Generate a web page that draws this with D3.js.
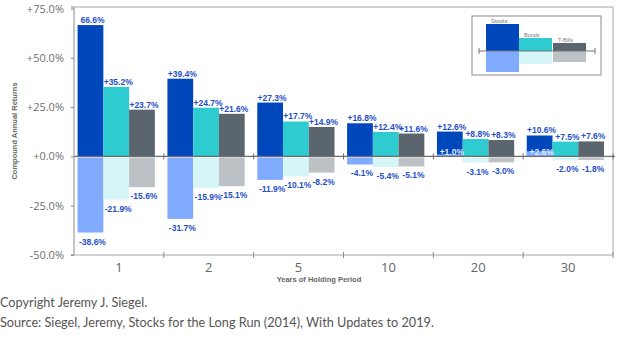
<!DOCTYPE html>
<html>
<head>
<meta charset="utf-8">
<script src="https://cdn.jsdelivr.net/npm/d3@7"></script>
<style>
  body { margin: 0; background: #fff; }
  svg text { font-family: "Liberation Sans", Arial, sans-serif; }
</style>
</head>
<body>
<div id="chart"></div>
<script>
// Holding periods (years) and best / worst compound annual returns, in percent
const periods = ["1", "2", "5", "10", "20", "30"];
const stocksBest = [66.6, 39.4, 27.3, 16.8, 12.6, 10.6];
const bondsBest = [35.2, 24.7, 17.7, 12.4, 8.8, 7.5];
const billsBest = [23.7, 21.6, 14.9, 11.6, 8.3, 7.6];
const stocksWorst = [-38.6, -31.7, -11.9, -4.1, 1.0, 2.6];
const bondsWorst = [-21.9, -15.9, -10.1, -5.4, -3.1, -2.0];
const billsWorst = [-15.6, -15.1, -8.2, -5.1, -3.0, -1.8];
const yTicks = [-50, -25, 0, 25, 50, 75];

const assets = ["stocks", "bonds", "bills"];
const best = { stocks: stocksBest, bonds: bondsBest, bills: billsBest };
const worst = { stocks: stocksWorst, bonds: bondsWorst, bills: billsWorst };
const darkColor = { stocks: "#0047bb", bonds: "#2ecbd0", bills: "#5b656d" };
const lightColor = { stocks: "#80abff", bonds: "#d6f5f6", bills: "#bcc1c5" };

const W = 624, H = 340;
const plot = { left: 74, right: 613, top: 7, bottom: 255 };

const svg = d3.select("#chart").append("svg")
  .attr("width", W)
  .attr("height", H);

const x = d3.scaleBand()
  .domain(periods)
  .range([plot.left, plot.right]);

const xSub = d3.scaleBand()
  .domain(assets)
  .range([3.6, x.bandwidth() * 0.9]);

const y = d3.scaleLinear()
  .domain([-50, 75])
  .range([plot.bottom, 8.5]);

// frame: top and right border
svg.append("path")
  .attr("d", `M${plot.left},${plot.top}H${plot.right}V${plot.bottom}`)
  .attr("fill", "none")
  .attr("stroke", "#a6a6a6")
  .attr("stroke-width", 1);

// left axis
const yAxis = svg.append("g")
  .attr("transform", `translate(${plot.left},0)`)
  .call(d3.axisLeft(y).tickValues(yTicks).tickSize(3).tickPadding(7)
    .tickFormat(d => (d >= 0 ? "+" : "") + d.toFixed(1) + "%"));
yAxis.select(".domain").attr("stroke", "#8c8c8c")
  .attr("d", `M-3,${plot.top}H0V${plot.bottom}H-3`);
yAxis.selectAll(".tick line").attr("stroke", "#8c8c8c");
yAxis.selectAll(".tick text")
  .attr("fill", "#6f6f6f")
  .style("font-size", "11px")
  .style("font-family", "'Open Sans', sans-serif");

// bottom axis with category boundary ticks
svg.append("line")
  .attr("x1", plot.left).attr("x2", plot.right)
  .attr("y1", plot.bottom).attr("y2", plot.bottom)
  .attr("stroke", "#a6a6a6");

const bounds = periods.map(p => x(p)).concat([plot.right]);
svg.selectAll(".btick")
  .data(bounds.slice(1))
  .enter().append("line")
  .attr("x1", d => d).attr("x2", d => d)
  .attr("y1", plot.bottom - 3).attr("y2", plot.bottom + 3)
  .attr("stroke", "#8c8c8c");

svg.selectAll(".xlabel")
  .data(periods)
  .enter().append("text")
  .attr("x", d => x(d) + x.bandwidth() / 2)
  .attr("y", 272)
  .attr("text-anchor", "middle")
  .attr("fill", "#666")
  .style("font-size", "13px")
  .style("font-family", "'Open Sans', sans-serif")
  .text(d => d);

// bars: best years (dark) then worst years (light) on top
const groups = svg.selectAll("g.period")
  .data(periods.map((p, i) => ({ p, i })))
  .enter().append("g")
  .attr("class", "period")
  .attr("transform", d => `translate(${x(d.p)},0)`);

groups.selectAll("rect.best")
  .data(d => assets.map(a => ({ a, v: best[a][d.i], i: d.i })))
  .enter().append("rect")
  .attr("class", "best")
  .attr("x", d => xSub(d.a))
  .attr("width", xSub.bandwidth())
  .attr("y", d => y(d.v))
  .attr("height", d => y(0) - y(d.v))
  .attr("fill", d => darkColor[d.a]);

groups.selectAll("rect.worst")
  .data(d => assets.map(a => ({ a, v: worst[a][d.i], i: d.i })))
  .enter().append("rect")
  .attr("class", "worst")
  .attr("x", d => xSub(d.a))
  .attr("width", xSub.bandwidth())
  .attr("y", d => d.v < 0 ? y(0) + 1 : y(d.v))
  .attr("height", d => d.v < 0 ? y(d.v) - y(0) - 1 : y(0) - y(d.v))
  .attr("fill", d => lightColor[d.a]);

const fmt = (v, a, i) => (v > 0 && !(a === "stocks" && i === 0) ? "+" : "") + v.toFixed(1) + "%";

groups.selectAll("text.bestlab")
  .data(d => assets.map(a => ({ a, v: best[a][d.i], i: d.i })))
  .enter().append("text")
  .attr("x", d => xSub(d.a) + xSub.bandwidth() / 2 + 2)
  .attr("y", d => y(d.v) - 2)
  .attr("text-anchor", "middle")
  .attr("fill", "#1f4fc6")
  .attr("font-weight", "bold")
  .style("font-size", "8.5px")
  .text(d => fmt(d.v, d.a, d.i));

groups.selectAll("text.worstlab")
  .data(d => assets.map(a => ({ a, v: worst[a][d.i], i: d.i })))
  .enter().append("text")
  .attr("x", d => xSub(d.a) + xSub.bandwidth() / 2 + 2)
  .attr("y", d => d.v < 0 ? y(d.v) + 12 : y(0) - 1)
  .attr("text-anchor", "middle")
  .attr("fill", d => d.v < 0 ? "#1f4fc6" : "#e4ebff")
  .attr("font-weight", "bold")
  .style("font-size", "8.5px")
  .text(d => fmt(d.v, d.a, d.i));

// zero line with boundary ticks
svg.append("line")
  .attr("x1", plot.left).attr("x2", plot.right + 2)
  .attr("y1", y(0)).attr("y2", y(0))
  .attr("stroke", "#6e6e6e")
  .attr("stroke-width", 1.2);
svg.selectAll(".ztick")
  .data(bounds.slice(1))
  .enter().append("line")
  .attr("x1", d => d).attr("x2", d => d)
  .attr("y1", y(0) - 3).attr("y2", y(0) + 3)
  .attr("stroke", "#6e6e6e");

// axis titles
svg.append("text")
  .attr("transform", `translate(17,${(plot.top + plot.bottom) / 2}) rotate(-90)`)
  .attr("text-anchor", "middle")
  .attr("fill", "#666")
  .attr("font-weight", "bold")
  .style("font-size", "7.5px")
  .text("Compound Annual Returns");

svg.append("text")
  .attr("x", 319)
  .attr("y", 282)
  .attr("text-anchor", "middle")
  .attr("fill", "#666")
  .attr("font-weight", "bold")
  .style("font-size", "7.5px")
  .text("Years of Holding Period");

// legend box
const lg = svg.append("g").attr("transform", "translate(472,16)");
lg.append("rect")
  .attr("width", 129).attr("height", 59)
  .attr("fill", "#fff")
  .attr("stroke", "#8c8c8c");

const lgBars = [
  { a: "stocks", name: "Stocks", x: 14, up: 27, down: 21 },
  { a: "bonds", name: "Bonds", x: 47, up: 13, down: 13 },
  { a: "bills", name: "T-Bills", x: 81, up: 8, down: 11 }
];
const lgZero = 35;
lg.selectAll("rect.up")
  .data(lgBars).enter().append("rect")
  .attr("x", d => d.x).attr("width", 33)
  .attr("y", d => lgZero - d.up).attr("height", d => d.up)
  .attr("fill", d => darkColor[d.a]);
lg.selectAll("rect.down")
  .data(lgBars).enter().append("rect")
  .attr("x", d => d.x).attr("width", 33)
  .attr("y", lgZero).attr("height", d => d.down)
  .attr("fill", d => lightColor[d.a]);
lg.selectAll("text")
  .data(lgBars).enter().append("text")
  .attr("x", d => d.x + 5)
  .attr("y", d => lgZero - d.up - 1)
  .attr("fill", "#777")
  .style("font-size", "5.5px")
  .text(d => d.name);
lg.append("path")
  .attr("d", `M7,${lgZero}H123M7,${lgZero - 3}V${lgZero + 3}M123,${lgZero - 3}V${lgZero + 3}`)
  .attr("stroke", "#777")
  .attr("fill", "none");

// footnotes
const notes = ["Copyright Jeremy J. Siegel.",
  "Source: Siegel, Jeremy, Stocks for the Long Run (2014), With Updates to 2019."];
svg.selectAll("text.note")
  .data(notes).enter().append("text")
  .attr("x", 0)
  .attr("y", (d, i) => 307 + i * 20)
  .attr("fill", "#555")
  .style("font-family", "Lato, sans-serif")
  .style("font-size", "12.7px")
  .text(d => d);
</script>
</body>
</html>
